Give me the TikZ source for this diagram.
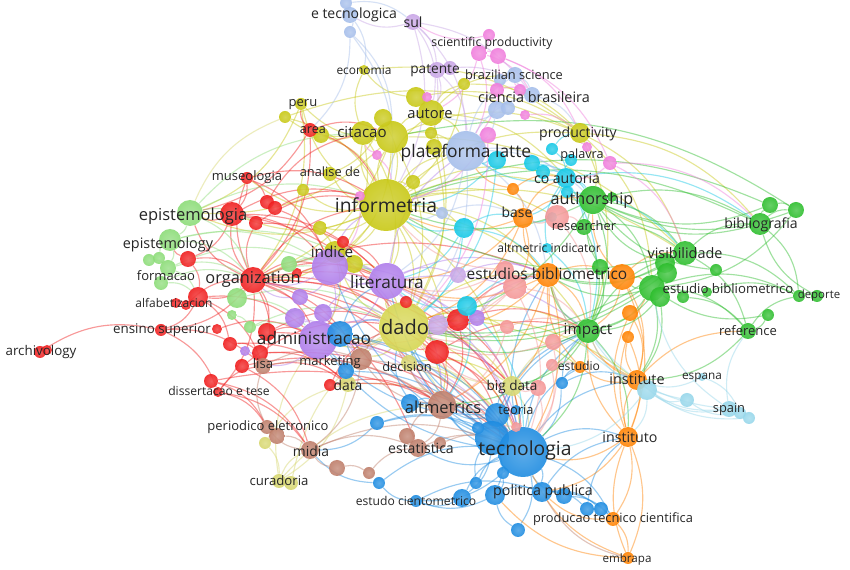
\documentclass[tikz,border=0pt]{standalone}
\usepackage{fontspec}
\setmainfont{Open Sans}
\usetikzlibrary{positioning}
\pgfdeclarelayer{bg}
\pgfdeclarelayer{fg}
\pgfsetlayers{bg,main,fg}

\definecolor{vR}{RGB}{240,30,30}
\definecolor{vG}{RGB}{45,190,45}
\definecolor{vLG}{RGB}{140,220,120}
\definecolor{vB}{RGB}{30,140,225}
\definecolor{vY}{RGB}{200,200,20}
\definecolor{vYd}{RGB}{214,214,80}
\definecolor{vLY}{RGB}{215,215,110}
\definecolor{vP}{RGB}{175,125,235}
\definecolor{vLav}{RGB}{200,165,230}
\definecolor{vC}{RGB}{20,200,230}
\definecolor{vO}{RGB}{255,130,0}
\definecolor{vBr}{RGB}{190,125,105}
\definecolor{vPk}{RGB}{240,125,220}
\definecolor{vS}{RGB}{245,150,150}
\definecolor{vLB}{RGB}{165,190,235}
\definecolor{vLC}{RGB}{150,215,235}

\tikzset{
  bub/.style={circle,inner sep=0pt,minimum size=#1*0.04cm,fill opacity=0.9},
  bc/.style={shading=radial,inner color=#1!80!white,outer color=#1},
  lnk/.style={draw=#1,line width=0.65pt,draw opacity=0.45,bend left=22},
  lb/.style={font=\fontsize{#1}{#1}\selectfont,text=black!85,inner sep=0pt}
}

\begin{document}
\begin{tikzpicture}[x=0.02cm,y=-0.02cm]
\useasboundingbox (0,0) rectangle (850,570);

% yellow
\node[bub=26,bc=vY] (informetria) at (386,205) {};
\node[bub=16,bc=vY] (y1) at (392,137) {};
\node[bub=12,bc=vY] (citacao) at (363,133) {};
\node[bub=9,bc=vY] (y2) at (383,118) {};
\node[bub=13,bc=vY] (autore) at (431,113) {};
\node[bub=10,bc=vY] (y3) at (416,97) {};
\node[bub=6,bc=vY] (y4) at (431,133) {};
\node[bub=8,bc=vY] (y5) at (434,147) {};
\node[bub=6,bc=vY] (peru) at (301,104) {};
\node[bub=6,bc=vY] (y6) at (285,117) {};
\node[bub=8,bc=vY] (y7) at (321,135) {};
\node[bub=5,bc=vY] (economia) at (364,70) {};
\node[bub=6,bc=vY] (y8) at (464,84) {};
\node[bub=10,bc=vY] (productivity) at (580,133) {};
\node[bub=7,bc=vY] (analise) at (330,174) {};
\node[bub=6,bc=vY] (y9) at (303,190) {};
\node[bub=7,bc=vY] (y10) at (413,182) {};
\node[bub=7,bc=vY] (y11) at (320,228) {};
\node[bub=11,bc=vY] (y12) at (335,252) {};
\node[bub=9,bc=vY] (y13) at (354,264) {};
\node[bub=25,bc=vYd] (dado) at (404,327) {};
\node[bub=8,bc=vLY] (decision) at (409,363) {};
\node[bub=8,bc=vLY] (data) at (348,384) {};
\node[bub=7,bc=vLY] (curadoria) at (279,481) {};
\node[bub=7,bc=vLY] (y14) at (291,483) {};
\node[bub=6,bc=vLY] (y15) at (265,443) {};
\node[bub=10,bc=vLY] (bigdata) at (512,386) {};

% red
\node[bub=7,bc=vR] (area) at (310,130) {};
\node[bub=6,bc=vR] (museologia) at (247,178) {};
\node[bub=12,bc=vR] (r1) at (232,214) {};
\node[bub=7,bc=vR] (r2) at (267,202) {};
\node[bub=7,bc=vR] (r3) at (275,208) {};
\node[bub=7,bc=vR] (r4) at (256,223) {};
\node[bub=8,bc=vR] (r5) at (188,259) {};
\node[bub=13,bc=vR] (organization) at (253,280) {};
\node[bub=5,bc=vR] (r6) at (297,273) {};
\node[bub=10,bc=vR] (alfab) at (198,297) {};
\node[bub=5,bc=vR] (r7) at (176,303) {};
\node[bub=5,bc=vR] (r8) at (186,305) {};
\node[bub=6,bc=vR] (ensino) at (161,330) {};
\node[bub=5,bc=vR] (r9) at (217,329) {};
\node[bub=7,bc=vR] (r10) at (230,344) {};
\node[bub=9,bc=vR] (r11) at (267,332) {};
\node[bub=8,bc=vR] (r12) at (260,353) {};
\node[bub=7,bc=vR] (r13) at (242,366) {};
\node[bub=7,bc=vR] (r14) at (211,381) {};
\node[bub=5,bc=vR] (dissert) at (218,392) {};
\node[bub=6,bc=vR] (r15) at (330,385) {};
\node[bub=6,bc=vR] (r16) at (343,242) {};
\node[bub=6,bc=vR] (r17) at (406,302) {};
\node[bub=11,bc=vR] (r18) at (458,320) {};
\node[bub=12,bc=vR] (r19) at (437,352) {};
\node[bub=6,bc=vR] (archivology) at (40,352) {};
\node[bub=5,bc=vR] (r20) at (47,350) {};

% light green
\node[bub=13,bc=vLG] (epistemologia) at (190,213) {};
\node[bub=11,bc=vLG] (epistemology) at (170,240) {};
\node[bub=6,bc=vLG] (lg1) at (149,260) {};
\node[bub=6,bc=vLG] (lg2) at (159,258) {};
\node[bub=8,bc=vLG] (formacao) at (168,268) {};
\node[bub=7,bc=vLG] (lg3) at (161,283) {};
\node[bub=10,bc=vLG] (lg4) at (237,298) {};
\node[bub=5,bc=vLG] (lg5) at (232,315) {};
\node[bub=8,bc=vLG] (lg6) at (289,264) {};
\node[bub=6,bc=vLG] (lg7) at (250,327) {};

% purple
\node[bub=18,bc=vP] (indice) at (330,267) {};
\node[bub=18,bc=vP] (literatura) at (387,281) {};
\node[bub=8,bc=vP] (p1) at (300,297) {};
\node[bub=10,bc=vP] (p2) at (295,318) {};
\node[bub=9,bc=vP] (p3) at (323,313) {};
\node[bub=19,bc=vP] (admin) at (318,340) {};
\node[bub=10,bc=vLav] (p4) at (438,325) {};
\node[bub=8,bc=vP] (p5) at (477,318) {};
\node[bub=5,bc=vP] (p6) at (245,351) {};
\node[bub=8,bc=vLav] (p7) at (458,275) {};
\node[bub=8,bc=vLav] (sul) at (413,22) {};
\node[bub=8,bc=vLav] (patente) at (437,70) {};
\node[bub=7,bc=vLav] (lv1) at (450,68) {};

% blue
\node[bub=13,bc=vB] (b1) at (340,334) {};
\node[bub=8,bc=vB] (b2) at (346,371) {};
\node[bub=9,bc=vB] (b3) at (410,403) {};
\node[bub=12,bc=vB] (teoria) at (497,415) {};
\node[bub=5,bc=vB] (b4) at (516,410) {};
\node[bub=17,bc=vB] (b5) at (492,438) {};
\node[bub=25,bc=vB] (tecnologia) at (523,452) {};
\node[bub=6,bc=vB] (b6) at (562,383) {};
\node[bub=7,bc=vB] (b7) at (377,423) {};
\node[bub=6,bc=vB] (b8) at (478,428) {};
\node[bub=6,bc=vB] (b9) at (476,483) {};
\node[bub=6,bc=vB] (b10) at (503,473) {};
\node[bub=10,bc=vB] (b11) at (495,495) {};
\node[bub=10,bc=vB] (politica) at (542,492) {};
\node[bub=8,bc=vB] (b12) at (564,496) {};
\node[bub=7,bc=vB] (b13) at (587,509) {};
\node[bub=7,bc=vB] (b14) at (601,509) {};
\node[bub=9,bc=vB] (b15) at (462,498) {};
\node[bub=7,bc=vB] (b16) at (518,530) {};
\node[bub=6,bc=vB] (estcient) at (416,501) {};
\node[bub=6,bc=vB] (b17) at (379,483) {};

% cyan
\node[bub=6,bc=vC] (c1) at (552,149) {};
\node[bub=9,bc=vC] (c2) at (497,160) {};
\node[bub=8,bc=vC] (c3) at (532,163) {};
\node[bub=7,bc=vC] (c4) at (543,172) {};
\node[bub=10,bc=vC] (coaut) at (566,178) {};
\node[bub=6,bc=vC] (palavra) at (571,160) {};
\node[bub=6,bc=vC] (c6) at (567,192) {};
\node[bub=10,bc=vC] (c7) at (464,228) {};
\node[bub=5,bc=vC] (c8) at (552,217) {};
\node[bub=5,bc=vC] (altind) at (547,248) {};
\node[bub=10,bc=vC] (c9) at (467,306) {};

% orange
\node[bub=10,bc=vO] (base) at (523,218) {};
\node[bub=6,bc=vO] (o1) at (513,189) {};
\node[bub=12,bc=vO] (estbib) at (548,275) {};
\node[bub=13,bc=vO] (o2) at (622,277) {};
\node[bub=8,bc=vO] (o3) at (630,313) {};
\node[bub=6,bc=vO] (o4) at (628,337) {};
\node[bub=6,bc=vO] (estudio) at (580,367) {};
\node[bub=10,bc=vO] (institute) at (637,380) {};
\node[bub=10,bc=vO] (instituto) at (628,437) {};
\node[bub=7,bc=vO] (producao) at (613,519) {};
\node[bub=6,bc=vO] (embrapa) at (628,558) {};

% green
\node[bub=14,bc=vG] (authorship) at (593,200) {};
\node[bub=5,bc=vG] (g1) at (612,197) {};
\node[bub=8,bc=vG] (researcher) at (584,227) {};
\node[bub=11,bc=vG] (bibliografia) at (760,224) {};
\node[bub=8,bc=vG] (g2) at (770,205) {};
\node[bub=8,bc=vG] (g3) at (796,210) {};
\node[bub=12,bc=vG] (visib) at (685,253) {};
\node[bub=10,bc=vG] (g4) at (665,263) {};
\node[bub=10,bc=vG] (g5) at (667,273) {};
\node[bub=13,bc=vG] (estbibg) at (652,288) {};
\node[bub=10,bc=vG] (g6) at (660,297) {};
\node[bub=6,bc=vG] (g7) at (716,270) {};
\node[bub=6,bc=vG] (g8) at (683,297) {};
\node[bub=5,bc=vG] (g9) at (707,292) {};
\node[bub=6,bc=vG] (deporte) at (799,296) {};
\node[bub=6,bc=vG] (g10) at (817,296) {};
\node[bub=6,bc=vG] (g11) at (768,315) {};
\node[bub=8,bc=vG] (reference) at (748,331) {};
\node[bub=12,bc=vG] (impact) at (588,331) {};
\node[bub=8,bc=vG] (g12) at (600,267) {};

% light blue
\node[bub=8,bc=vLB] (etec) at (350,15) {};
\node[bub=6,bc=vLB] (lb1) at (346,3) {};
\node[bub=6,bc=vLB] (lb2) at (350,32) {};
\node[bub=8,bc=vLB] (brsci) at (515,75) {};
\node[bub=6,bc=vLB] (lb3) at (500,80) {};
\node[bub=8,bc=vLB] (cienbr) at (532,95) {};
\node[bub=9,bc=vLB] (lb4) at (497,110) {};
\node[bub=7,bc=vLB] (lb5) at (508,108) {};
\node[bub=20,bc=vLB] (platlatte) at (466,151) {};
\node[bub=6,bc=vLB] (lb6) at (442,213) {};

% pink
\node[bub=6,bc=vPk] (pk1) at (489,35) {};
\node[bub=8,bc=vPk] (pk2) at (479,53) {};
\node[bub=8,bc=vPk] (pk3) at (498,56) {};
\node[bub=7,bc=vPk] (pk4) at (497,90) {};
\node[bub=6,bc=vPk] (pk5) at (520,90) {};
\node[bub=5,bc=vPk] (pk6) at (427,97) {};
\node[bub=5,bc=vPk] (pk7) at (525,115) {};
\node[bub=8,bc=vPk] (pk8) at (488,135) {};
\node[bub=5,bc=vPk] (pk9) at (377,155) {};
\node[bub=7,bc=vPk] (pk10) at (610,163) {};
\node[bub=5,bc=vPk] (pk11) at (587,147) {};
\node[bub=5,bc=vPk] (pk12) at (360,196) {};

% salmon
\node[bub=12,bc=vS] (s1) at (557,217) {};
\node[bub=12,bc=vS] (s2) at (515,287) {};
\node[bub=9,bc=vS] (s3) at (505,270) {};
\node[bub=7,bc=vS] (s4) at (507,327) {};
\node[bub=8,bc=vS] (s5) at (553,342) {};
\node[bub=6,bc=vS] (s6) at (552,365) {};
\node[bub=8,bc=vS] (s7) at (538,388) {};
\node[bub=5,bc=vS] (s8) at (516,427) {};

% brown
\node[bub=11,bc=vBr] (marketing) at (361,359) {};
\node[bub=8,bc=vBr] (lisa) at (263,366) {};
\node[bub=14,bc=vBr] (altmetrics) at (442,405) {};
\node[bub=7,bc=vBr] (periodico) at (267,427) {};
\node[bub=8,bc=vBr] (br1) at (277,436) {};
\node[bub=9,bc=vBr] (midia) at (310,450) {};
\node[bub=8,bc=vBr] (br2) at (337,468) {};
\node[bub=6,bc=vBr] (br3) at (369,473) {};
\node[bub=9,bc=vBr] (estatistica) at (418,448) {};
\node[bub=8,bc=vBr] (br4) at (407,436) {};
\node[bub=6,bc=vBr] (br5) at (440,443) {};

% light cyan
\node[bub=10,bc=vLC] (lc1) at (647,390) {};
\node[bub=7,bc=vLC] (lc2) at (687,400) {};
\node[bub=8,bc=vLC] (spain) at (729,409) {};
\node[bub=6,bc=vLC] (lc3) at (740,413) {};
\node[bub=6,bc=vLC] (lc4) at (749,418) {};
\node[bub=4,bc=vLC] (espana) at (702,377) {};

\begin{pgfonlayer}{bg}
\fill[white] (0,0) rectangle (850,570);
% links, coloured by the cluster they start from
\foreach \a/\b in {informetria/citacao,informetria/y1,informetria/autore,informetria/platlatte,informetria/dado,informetria/y12,informetria/peru,informetria/analise,informetria/productivity,informetria/base,informetria/estbib,informetria/organization,informetria/epistemologia,informetria/authorship,informetria/literatura,informetria/y10,informetria/y11,y1/autore,y1/citacao,y1/peru,y1/dado,y1/productivity,y1/platlatte,citacao/economia,citacao/area,citacao/y6,autore/y8,autore/brsci,autore/platlatte,y3/productivity,y3/economia,y2/analise,productivity/authorship,productivity/visib,y6/productivity,peru/organization,y9/organization,y11/indice,dado/literatura,dado/tecnologia,dado/admin,dado/altmetrics,dado/decision,dado/bigdata,dado/estbib,dado/impact,dado/y12,y13/literatura,decision/tecnologia,y12/admin,informetria/impact,informetria/visib,y4/y5,y7/informetria,dado/estudio,dado/institute,dado/s4,dado/b1,dado/marketing,dado/r19,informetria/r1,informetria/museologia,informetria/y9,informetria/c7,informetria/coaut,informetria/s1,informetria/altmetrics,informetria/tecnologia,y1/organization,y1/epistemologia,y1/indice,y1/visib,y6/informetria,peru/epistemologia,y8/productivity,y8/informetria,citacao/literatura,citacao/indice,autore/dado,autore/coaut,productivity/bibliografia,productivity/estbibg,productivity/impact,y13/dado,decision/bigdata,y12/organization,economia/productivity,y2/informetria,y5/dado}
  \draw[lnk=vY] (\a) to (\b);
\foreach \a/\b in {data/dado,data/curadoria,curadoria/midia,y14/dado,y15/data,bigdata/tecnologia,bigdata/dado,decision/altmetrics,y15/curadoria,curadoria/admin,epistemologia/y6,data/tecnologia,curadoria/altmetrics,bigdata/impact,decision/teoria}
  \draw[lnk=vLY] (\a) to (\b);
\foreach \a/\b in {organization/epistemologia,organization/museologia,organization/alfab,organization/ensino,organization/indice,organization/admin,organization/dado,organization/lisa,organization/r1,organization/r11,organization/dissert,organization/informetria,organization/r4,organization/tecnologia,organization/literatura,museologia/r2,museologia/informetria,r1/indice,r1/epistemologia,r1/r5,r2/r3,r3/informetria,r4/literatura,r5/alfab,alfab/ensino,alfab/r10,archivology/ensino,ensino/dissert,ensino/lisa,r10/r12,r11/admin,r12/data,r13/midia,r14/periodico,dissert/midia,r15/altmetrics,r15/dado,r16/indice,r17/dado,r17/tecnologia,r18/dado,r18/altmetrics,r18/impact,r18/estbib,r19/dado,r19/tecnologia,r19/altmetrics,area/informetria,area/organization,area/y1,lisa/data,r9/admin,r6/literatura,r1/dado,r13/altmetrics,r11/tecnologia,r14/tecnologia,r19/bigdata,organization/estbib,r7/r8,organization/r19,organization/r18,organization/altmetrics,organization/marketing,organization/bigdata,organization/estatistica,r1/literatura,r1/informetria,r4/informetria,r11/dado,r12/tecnologia,r10/data,alfab/admin,alfab/lisa,r5/organization,r5/epistemology,museologia/indice,museologia/r1,r3/indice,area/peru,area/epistemologia,r16/literatura,r19/impact,r19/teoria,r18/tecnologia,r15/tecnologia,dissert/lisa,dissert/periodico,r14/midia,r13/dado,r2/citacao,r8/organization}
  \draw[lnk=vR] (\a) to (\b);
\foreach \a/\b in {epistemologia/epistemology,epistemology/formacao,formacao/alfab,formacao/organization,epistemologia/organization,lg4/admin,lg6/indice,epistemology/literatura,lg1/formacao,lg2/epistemology,lg3/alfab,lg4/organization,lg5/lg7,lg7/admin,epistemologia/citacao,lg6/literatura,epistemology/indice,lg4/dado,epistemologia/informetria,epistemology/organization,formacao/indice,lg3/organization,lg4/indice,epistemologia/r4,lg7/dado}
  \draw[lnk=vLG] (\a) to (\b);
\foreach \a/\b in {literatura/indice,literatura/admin,literatura/dado,literatura/platlatte,indice/admin,admin/marketing,literatura/estbib,literatura/p7,p5/dado,admin/lisa,indice/informetria,literatura/tecnologia,indice/p1,p2/admin,p3/literatura,p4/dado,p4/tecnologia,p6/lisa,literatura/impact,admin/altmetrics,indice/dado,p7/estbib,admin/dado,admin/tecnologia,admin/data,literatura/altmetrics,literatura/bigdata,indice/organization,indice/r18,p1/organization,p2/marketing,p3/dado,p5/estbib,p5/s2,indice/literatura}
  \draw[lnk=vP] (\a) to (\b);
\foreach \a/\b in {sul/patente,sul/platlatte,sul/autore,sul/informetria,patente/autore,patente/informetria,patente/platlatte,lv1/cienbr,sul/etec,sul/cienbr}
  \draw[lnk=vLav] (\a) to (\b);
\foreach \a/\b in {tecnologia/teoria,tecnologia/altmetrics,tecnologia/politica,tecnologia/producao,tecnologia/estcient,tecnologia/admin,tecnologia/bigdata,tecnologia/institute,tecnologia/instituto,teoria/altmetrics,teoria/bigdata,politica/producao,politica/b13,politica/b14,estcient/b17,b1/tecnologia,b1/marketing,b1/data,b6/institute,b6/tecnologia,tecnologia/estudio,tecnologia/b16,b5/altmetrics,b5/b11,b5/b15,b11/politica,b15/estcient,b7/b5,b7/midia,b9/tecnologia,b10/tecnologia,b12/tecnologia,b3/tecnologia,b3/dado,b2/b5,b8/tecnologia,b4/teoria,b5/impact,tecnologia/impact,b1/b5,b16/b11,b17/midia,tecnologia/estatistica,b13/instituto,b14/producao,tecnologia/literatura,tecnologia/indice,tecnologia/estbib,tecnologia/s7,teoria/dado,teoria/admin,b5/dado,b5/teoria,b3/altmetrics,b3/b5,b7/tecnologia,b2/marketing,b1/dado,b1/literatura,b6/impact,b6/estudio,b11/estcient,b15/tecnologia,politica/instituto,b12/producao,b9/b5,b10/b11,teoria/impact,b17/tecnologia,estcient/politica}
  \draw[lnk=vB] (\a) to (\b);
\foreach \a/\b in {coaut/platlatte,coaut/palavra,coaut/authorship,coaut/base,c7/informetria,c9/dado,altind/coaut,c2/platlatte,c3/c4,c4/coaut,c1/coaut,c6/researcher,c8/base,c9/estbib,c7/literatura,c2/informetria,c3/authorship,c1/productivity,c9/altmetrics,c7/dado,coaut/impact,c6/visib,c9/tecnologia,c9/literatura,c7/base,c7/estbib,altind/estbib,altind/impact,c2/dado,coaut/bibliografia}
  \draw[lnk=vC] (\a) to (\b);
\foreach \a/\b in {instituto/institute,instituto/producao,instituto/embrapa,producao/embrapa,institute/estudio,estbib/o2,estbib/base,base/informetria,o2/impact,o2/visib,institute/estbib,instituto/tecnologia,embrapa/tecnologia,instituto/o3,institute/o4,instituto/impact,o1/base,o1/platlatte,base/dado,estbib/dado,estbib/literatura,o2/estbibg,o3/institute,o4/instituto,institute/impact,estudio/estbib,instituto/estbibg,institute/reference,producao/politica,embrapa/b11,o2/authorship,base/authorship,estbib/altmetrics,estbib/impact,estbib/tecnologia,estbib/bigdata,o2/institute,o2/instituto,base/coaut,base/literatura,base/s2,o1/coaut,instituto/politica,embrapa/instituto}
  \draw[lnk=vO] (\a) to (\b);
\foreach \a/\b in {authorship/visib,authorship/bibliografia,authorship/estbibg,visib/bibliografia,visib/deporte,visib/reference,estbibg/reference,estbibg/deporte,estbibg/impact,impact/visib,bibliografia/deporte,bibliografia/g2,g3/estbibg,researcher/visib,impact/estbib,estbibg/o2,informetria/bibliografia,informetria/g2,g3/authorship,g2/authorship,bibliografia/authorship,reference/institute,g11/estbibg,g7/authorship,g4/authorship,g5/impact,g6/institute,g8/reference,g9/deporte,bibliografia/g3,g2/g3,g12/impact,g12/authorship,impact/instituto,researcher/impact,authorship/impact,visib/estbib,g10/bibliografia,g11/reference,estbibg/dado,visib/dado,impact/dado,estbibg/institute,g1/authorship,impact/tecnologia,impact/altmetrics,impact/bigdata,authorship/dado,authorship/informetria,visib/informetria,estbibg/estbib,g4/estbib,g5/dado,g6/impact,y1/g3,deporte/g10,reference/deporte}
  \draw[lnk=vG] (\a) to (\b);
\foreach \a/\b in {platlatte/cienbr,platlatte/brsci,etec/lb2,etec/lb1,lb2/informetria,lb2/area,brsci/cienbr,platlatte/coaut,platlatte/informetria,lb4/platlatte,lb5/autore,lb3/pk4,cienbr/productivity,lb6/informetria,lb6/base,platlatte/dado,platlatte/literatura,lb1/sul,etec/economia,platlatte/authorship,platlatte/estbib,lb2/y1}
  \draw[lnk=vLB] (\a) to (\b);
\foreach \a/\b in {pk1/pk2,pk2/pk3,pk2/cienbr,pk3/platlatte,pk3/productivity,pk4/cienbr,pk5/brsci,pk6/autore,pk7/productivity,pk8/platlatte,pk8/informetria,pk10/coaut,pk10/bibliografia,pk11/productivity,pk9/citacao,pk12/informetria,pk2/autore,pk3/pk10,pk1/sul,pk8/dado,pk10/visib,pk2/platlatte,pk9/informetria,pk12/indice}
  \draw[lnk=vPk] (\a) to (\b);
\foreach \a/\b in {s2/estbib,s2/dado,s1/base,s1/impact,s7/bigdata,s5/impact,s3/literatura,s4/dado,s6/estudio,s8/teoria,s2/impact,s1/researcher,s5/tecnologia,s3/informetria,s7/tecnologia,s2/literatura,s4/altmetrics,s2/admin,s2/tecnologia,s3/dado,s5/dado,s6/tecnologia,s7/dado,s4/impact}
  \draw[lnk=vS] (\a) to (\b);
\foreach \a/\b in {altmetrics/marketing,altmetrics/estatistica,altmetrics/tecnologia,midia/periodico,midia/estatistica,periodico/lisa,marketing/dado,marketing/midia,br2/midia,br3/estatistica,estatistica/tecnologia,altmetrics/dado,br1/midia,br4/altmetrics,br5/tecnologia,lisa/marketing,periodico/br1,br2/br3,lisa/altmetrics,embrapa/politica,altmetrics/literatura,midia/tecnologia,marketing/tecnologia}
  \draw[lnk=vBr] (\a) to (\b);
\foreach \a/\b in {spain/institute,spain/lc1,espana/institute,lc1/impact,spain/reference,lc2/lc1,lc3/lc2,lc4/institute,lc1/tecnologia,espana/lc3,lc2/impact,spain/estbibg,lc1/instituto,lc1/estbib,spain/impact}
  \draw[lnk=vLC] (\a) to (\b);
\end{pgfonlayer}

\begin{pgfonlayer}{fg}
\node[lb=8] (t-etec) at (354,15) {e tecnologica};
\node[lb=8] (t-sul) at (413,22) {sul};
\node[lb=7] (t-sciprod) at (492,43) {scientific productivity};
\node[lb=6.8] (t-economia) at (364,70) {economia};
\node[lb=7.8] (t-patente) at (435,71) {patente};
\node[lb=7.3] (t-brsci) at (514,75) {brazilian science};
\node[lb=8.2] (t-cienbr) at (534,97) {ciencia brasileira};
\node[lb=7.4] (t-peru) at (303,105) {peru};
\node[lb=7.2] (t-area) at (313,130) {area};
\node[lb=8.6] (t-citacao) at (362,132) {citacao};
\node[lb=8.4] (t-autore) at (430,114) {autore};
\node[lb=9.9] (t-platlatte) at (466,153) {plataforma latte};
\node[lb=8] (t-productivity) at (578,134) {productivity};
\node[lb=7.2] (t-palavra) at (582,155) {palavra};
\node[lb=7.3] (t-analise) at (330,172) {analise de};
\node[lb=7.4] (t-museologia) at (247,177) {museologia};
\node[lb=8] (t-coaut) at (567,178) {co autoria};
\node[lb=11] (t-informetria) at (386,205) {informetria};
\node[lb=9.4] (t-epistemologia) at (193,216) {epistemologia};
\node[lb=9.2] (t-authorship) at (592,200) {authorship};
\node[lb=7.9] (t-base) at (517,212) {base};
\node[lb=7.3] (t-researcher) at (584,226) {researcher};
\node[lb=8] (t-bibliografia) at (761,225) {bibliografia};
\node[lb=8.2] (t-epistemology) at (168,245) {epistemology};
\node[lb=8.7] (t-indice) at (332,252) {indice};
\node[lb=6.9] (t-altind) at (549,248) {altmetric indicator};
\node[lb=8.2] (t-visib) at (685,253) {visibilidade};
\node[lb=7.4] (t-formacao) at (166,276) {formacao};
\node[lb=9.3] (t-organization) at (253,279) {organization};
\node[lb=9.8] (t-literatura) at (387,282) {literatura};
\node[lb=8.8] (t-estbib) at (547,274) {estudios bibliometrico};
\node[lb=7.5] (t-estbibg) at (728,289) {estudio bibliometrico};
\node[lb=6.5] (t-deporte) at (819,296) {deporte};
\node[lb=6.8] (t-alfab) at (174,303) {alfabetizacion};
\node[lb=7.6] (t-ensino) at (162,330) {ensino superior};
\node[lb=9.8] (t-admin) at (314,338) {administracao};
\node[lb=11.4] (t-dado) at (405,327) {dado};
\node[lb=8.7] (t-impact) at (588,331) {impact};
\node[lb=7.4] (t-reference) at (748,331) {reference};
\node[lb=7.6] (t-archivology) at (41,352) {archivology};
\node[lb=7.4] (t-marketing) at (330,362) {marketing};
\node[lb=7.3] (t-decision) at (407,367) {decision};
\node[lb=7.5] (t-lisa) at (263,364) {lisa};
\node[lb=6.9] (t-estudio) at (579,366) {estudio};
\node[lb=8.2] (t-institute) at (637,379) {institute};
\node[lb=6.7] (t-espana) at (702,378) {espana};
\node[lb=7.9] (t-data) at (348,385) {data};
\node[lb=6.9] (t-dissert) at (219,391) {dissertacao e tese};
\node[lb=7.7] (t-bigdata) at (512,387) {big data};
\node[lb=9.4] (t-altmetrics) at (443,407) {altmetrics};
\node[lb=7.3] (t-teoria) at (516,410) {teoria};
\node[lb=7.3] (t-spain) at (729,409) {spain};
\node[lb=7.4] (t-periodico) at (268,427) {periodico eletronico};
\node[lb=8.1] (t-instituto) at (630,437) {instituto};
\node[lb=7.9] (t-midia) at (311,451) {midia};
\node[lb=11] (t-tecnologia) at (525,450) {tecnologia};
\node[lb=8] (t-estatistica) at (421,448) {estatistica};
\node[lb=7.5] (t-curadoria) at (279,481) {curadoria};
\node[lb=8.1] (t-politica) at (543,492) {politica publica};
\node[lb=6.9] (t-estcient) at (416,501) {estudo cientometrico};
\node[lb=7.3] (t-producao) at (613,519) {producao tecnico cientifica};
\node[lb=6.6] (t-embrapa) at (627,559) {embrapa};
\end{pgfonlayer}
\end{tikzpicture}
\end{document}
